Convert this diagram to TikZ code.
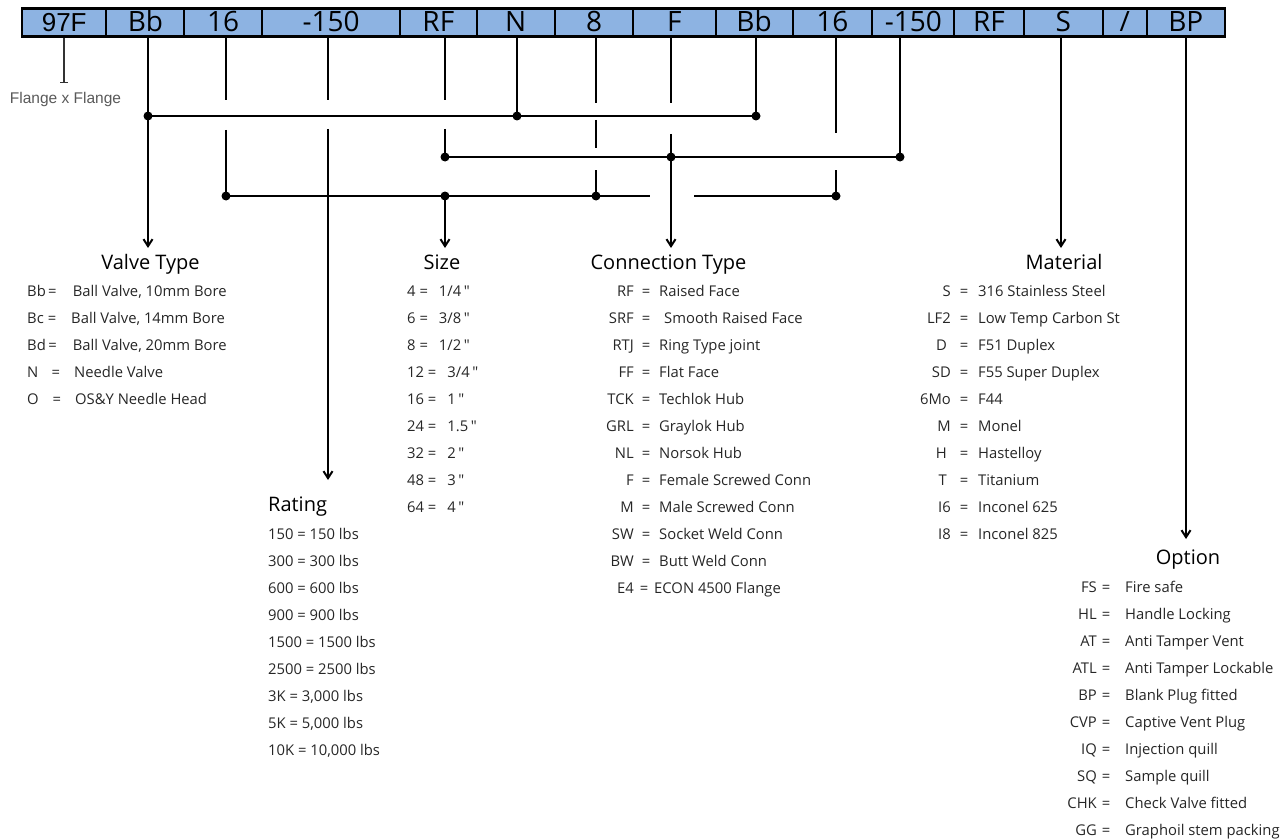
\documentclass[tikz,border=0pt]{standalone}
\usepackage{fontspec}
\setmainfont{Open Sans}
\newfontfamily\arialfont{Liberation Sans}
\usetikzlibrary{arrows.meta}
% straight inch mark, bypassing the TeX quote mapping
\newcommand\inch{\XeTeXglyph\XeTeXcharglyph"22\relax}
\newcommand\sep{/}

\definecolor{barblue}{HTML}{8DB3E2}
\definecolor{bodytext}{HTML}{262626}
\definecolor{notegray}{HTML}{595959}

\begin{document}
\begin{tikzpicture}[x=1pt,y=-1pt,
  cell/.style={draw=black, line width=2pt, fill=barblue, inner sep=0pt, outer sep=0pt,
    minimum height=28.4pt, text height=19pt, text depth=0pt,
    font=\fontsize{28}{32}\selectfont},
  wire/.style={line width=2pt},
  arr/.style={wire, -{Straight Barb[length=7pt,width=9pt]}},
  dot/.style={circle, fill=black, inner sep=0pt, minimum size=9pt},
  head/.style={inner sep=0pt, anchor=base, font=\fontsize{20}{24}\selectfont},
  item/.style={inner sep=0pt, text=bodytext, font=\fontsize{14.8}{17}\selectfont},
]
\useasboundingbox (0,0) rectangle (1287,840);

% ---------- tick tops under the code bar ----------
\coordinate (t-97)   at (64,36.7);
\coordinate (t-bb)   at (148,36.7);
\coordinate (t-16)   at (226,36.7);
\coordinate (t-150)  at (328,36.7);
\coordinate (t-rf)   at (445,36.7);
\coordinate (t-n)    at (517,36.7);
\coordinate (t-8)    at (596,36.7);
\coordinate (t-f)    at (671,36.7);
\coordinate (t-bb2)  at (756,36.7);
\coordinate (t-16b)  at (836,36.7);
\coordinate (t-150b) at (900,36.7);
\coordinate (t-s)    at (1061,36.7);
\coordinate (t-bp)   at (1186,36.7);

% ---------- junction dots ----------
\node[dot] (d1)  at (148,116) {};
\node[dot] (d2)  at (517,116) {};
\node[dot] (d3)  at (756,116) {};
\node[dot] (d4)  at (445,157) {};
\node[dot] (d5)  at (671,157) {};
\node[dot] (d6)  at (900,157) {};
\node[dot] (d7)  at (226,196) {};
\node[dot] (d8)  at (445,196) {};
\node[dot] (d9)  at (596,196) {};
\node[dot] (d10) at (836,196) {};

% ---------- ends of the line hops ----------
\coordinate (g-16a)  at (226,100);    \coordinate (g-16b)  at (226,130);
\coordinate (g-150a) at (328,100);    \coordinate (g-150b) at (328,129);
\coordinate (g-rf1)  at (445,100);    \coordinate (g-rf2)  at (445,129);
\coordinate (g-8a)   at (596,103);    \coordinate (g-8b)   at (596,120);
\coordinate (g-8c)   at (596,148);    \coordinate (g-8d)   at (596,170);
\coordinate (g-f1)   at (671,103);    \coordinate (g-f2)   at (671,134);
\coordinate (g-16c)  at (836,133);    \coordinate (g-16d)  at (836,170);
\coordinate (g-l3a)  at (650,196);    \coordinate (g-l3b)  at (694,196);

% ---------- arrow targets ----------
\coordinate (a-valve)  at (148,248);
\coordinate (a-size)   at (445,248);
\coordinate (a-conn)   at (671,248);
\coordinate (a-mat)    at (1061,248);
\coordinate (a-rating) at (328,480);
\coordinate (a-opt)    at (1186,539);
\coordinate (f-end)    at (64,83.5);

% ---------- connectors ----------
% valve type / N / Bb bus
\draw[arr] (t-bb) -- (d1.center) -- (a-valve);
\draw[wire] (d1.center) -- (d2.center) -- (d3.center);
\draw[wire] (t-n) -- (d2.center);
\draw[wire] (t-bb2) -- (d3.center);
% connection bus
\draw[wire] (d4.center) -- (d5.center) -- (d6.center);
\draw[wire] (t-rf) -- (g-rf1);
\draw[wire] (g-rf2) -- (d4.center);
\draw[wire] (t-f) -- (g-f1);
\draw[arr] (g-f2) -- (d5.center) -- (a-conn);
\draw[wire] (t-150b) -- (d6.center);
% size bus
\draw[wire] (d7.center) -- (g-l3a);
\draw[wire] (g-l3b) -- (d10.center);
\draw[wire] (t-16) -- (g-16a);
\draw[wire] (g-16b) -- (d7.center);
\draw[wire] (t-8) -- (g-8a);
\draw[wire] (g-8b) -- (g-8c);
\draw[wire] (g-8d) -- (d9.center);
\draw[wire] (t-16b) -- (g-16c);
\draw[wire] (g-16d) -- (d10.center);
\draw[arr] (d8.center) -- (a-size);
% rating, material, option
\draw[wire] (t-150) -- (g-150a);
\draw[arr] (g-150b) -- (a-rating);
\draw[arr] (t-s) -- (a-mat);
\draw[arr] (t-bp) -- (a-opt);
% flange x flange note
\draw[line width=1.2pt, draw=black!80, -{Bar[width=8pt,line width=1.2pt]}] (t-97) -- (f-end);
\node[inner sep=0pt, anchor=base, text=notegray, font=\arialfont\fontsize{15.5}{18}\selectfont]
  (flange) at (65.5,104) {Flange x Flange};

% ---------- code bar ----------
\node[cell, minimum width=84.4pt, font=\arialfont\fontsize{26}{30}\selectfont] (c1) at (64.2,22.5) {97F};
\foreach \l/\r/\t [count=\i from 2] in {106.4/184.4/Bb, 184.4/262/16, 262/400.2/-150,
    400.2/476.5/RF, 476.5/554.9/N, 554.9/633.3/8, 633.3/715.5/F, 715.5/792.6/Bb,
    792.6/872.3/16, 872.3/954.4/-150, 954.4/1023.7/RF, 1023.7/1102.9/S,
    1102.9/1146.6/\sep, 1146.6/1225/BP}{
  \pgfmathsetmacro\cx{(\l+\r)/2}
  \pgfmathsetmacro\w{\r-\l}
  \node[cell, minimum width=\w pt] (c\i) at (\cx,22.5) {\t};
}
\draw[line width=2.8pt] (c1.north west) rectangle (c15.south east);

% ---------- headings ----------
\node[head] (h-valve) at (150.5,269.3) {Valve Type};
\node[head] (h-size)  at (442,269.3) {Size};
\node[head] (h-conn)  at (668.5,269.3) {Connection Type};
\node[head] (h-mat)   at (1064,269.3) {Material};
\node[head, anchor=base west] (h-rating) at (268,511.5) {Rating};
\node[head] (h-opt)   at (1188,564) {Option};

% ---------- valve type ----------
\foreach \k/\ex/\vx/\v [count=\i] in {Bb/52.3/72.7/{Ball Valve, 10mm Bore},
    Bc/52/71/{Ball Valve, 14mm Bore}, Bd/52.5/72.7/{Ball Valve, 20mm Bore},
    N/55.8/74/{Needle Valve}, O/56.8/75/{OS\&Y Needle Head}}{
  \pgfmathsetmacro\yy{296.7+27*(\i-1)}
  \node[item, anchor=base west] (vt-k\i) at (27,\yy) {\k};
  \node[item, anchor=base] (vt-e\i) at (\ex,\yy) {=};
  \node[item, anchor=base west] (vt-v\i) at (\vx,\yy) {\v};
}

% ---------- size ----------
\foreach \k/\v [count=\i] in {4/1\slash 4, 6/3\slash 8, 8/1\slash 2, 12/3\slash 4,
    16/1, 24/1.5, 32/2, 48/3, 64/4}{
  \pgfmathsetmacro\yy{296.7+27*(\i-1)}
  \node[item, anchor=base west] (sz-\i) at (407,\yy) {\k\ =\hspace{11pt}\v\,\inch};
}

% ---------- rating ----------
\foreach \t [count=\i] in {150 = 150 lbs, 300 = 300 lbs, 600 = 600 lbs, 900 = 900 lbs,
    1500 = 1500 lbs, 2500 = 2500 lbs, {3K = 3,000 lbs}, {5K = 5,000 lbs},
    {10K = 10,000 lbs}}{
  \pgfmathsetmacro\yy{539.5+27*(\i-1)}
  \node[item, anchor=base west] (rt-\i) at (268,\yy) {\t};
}

% ---------- connection type ----------
\foreach \k/\ex/\vx/\v [count=\i] in {RF/646/659/Raised Face, SRF/646/664/Smooth Raised Face,
    RTJ/646/659/Ring Type joint, FF/646/659/Flat Face, TCK/646/659/Techlok Hub,
    GRL/646/659/Graylok Hub, NL/646/659/Norsok Hub, F/646/659/Female Screwed Conn,
    M/646/659/Male Screwed Conn, SW/646/659/Socket Weld Conn, BW/646/659/Butt Weld Conn,
    E4/644/654/ECON 4500 Flange}{
  \pgfmathsetmacro\yy{296.7+27*(\i-1)}
  \node[item, anchor=base east] (ct-k\i) at (634,\yy) {\k};
  \node[item, anchor=base] (ct-e\i) at (\ex,\yy) {=};
  \node[item, anchor=base west] (ct-v\i) at (\vx,\yy) {\v};
}

% ---------- material ----------
\foreach \k/\kx/\v [count=\i] in {S/951/316 Stainless Steel, LF2/951/Low Temp Carbon St,
    D/947/F51 Duplex, SD/951/F55 Super Duplex, 6Mo/951/F44, M/951/Monel,
    H/947/Hastelloy, T/947/Titanium, I6/951/Inconel 625, I8/951/Inconel 825}{
  \pgfmathsetmacro\yy{296.7+27*(\i-1)}
  \node[item, anchor=base east] (mt-k\i) at (\kx,\yy) {\k};
  \node[item, anchor=base] (mt-e\i) at (964,\yy) {=};
  \node[item, anchor=base west] (mt-v\i) at (978,\yy) {\v};
}

% ---------- option ----------
\foreach \k/\v [count=\i] in {FS/Fire safe, HL/Handle Locking, AT/Anti Tamper Vent,
    ATL/Anti Tamper Lockable, BP/Blank Plug fitted, CVP/Captive Vent Plug,
    IQ/Injection quill, SQ/Sample quill, CHK/Check Valve fitted,
    GG/Graphoil stem packing}{
  \pgfmathsetmacro\yy{592.5+27*(\i-1)}
  \node[item, anchor=base east] (op-k\i) at (1097,\yy) {\k};
  \node[item, anchor=base] (op-e\i) at (1106,\yy) {=};
  \node[item, anchor=base west] (op-v\i) at (1125,\yy) {\v};
}
\end{tikzpicture}
\end{document}
